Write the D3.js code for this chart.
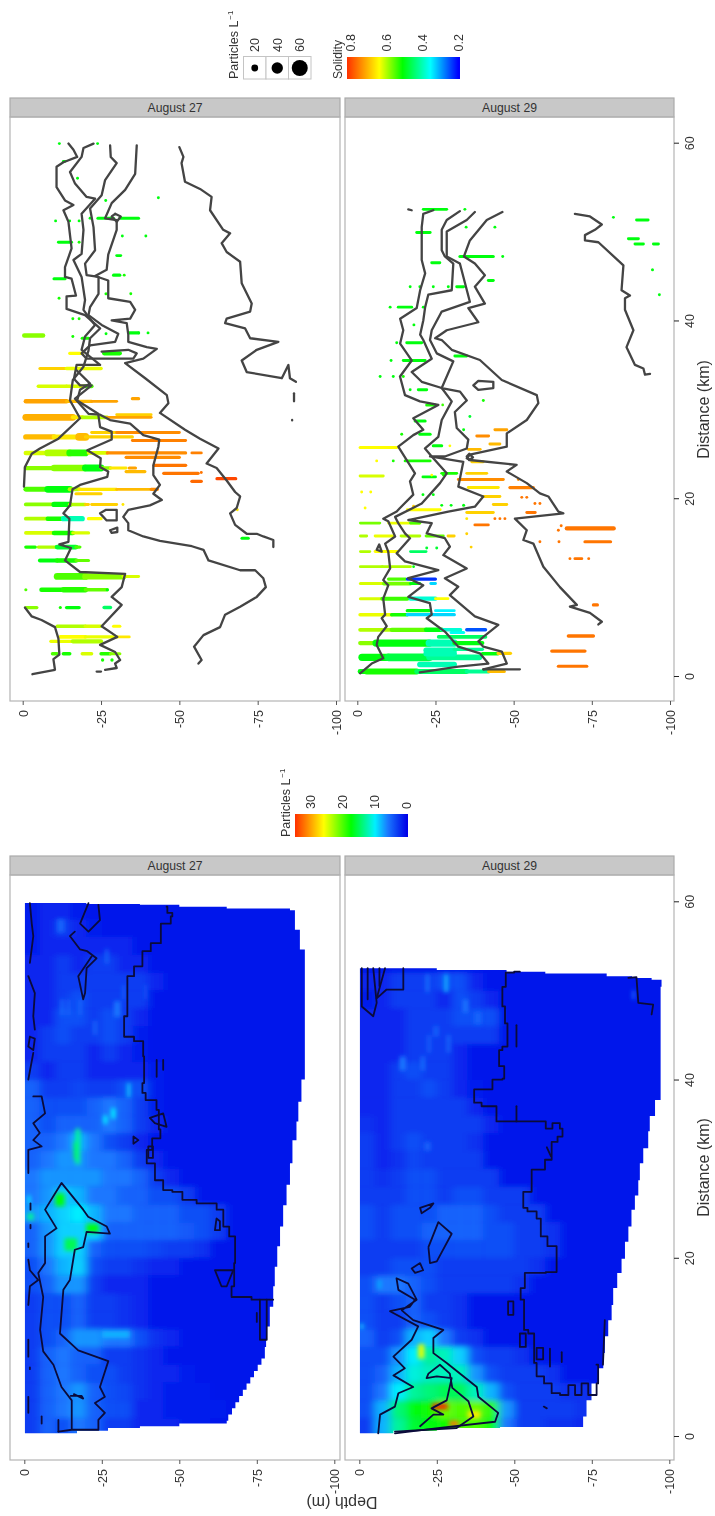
<!DOCTYPE html>
<html>
<head>
 <meta charset="UTF-8">
 <title>Particles and solidity, August 27 and 29</title>
 <script src="https://cdn.jsdelivr.net/npm/d3@7"></script>
 <style>
body { margin: 0; background: #fff; }
svg { display: block; font-family: "Liberation Sans", Arial, sans-serif; fill: #333; filter: blur(0.4px); }
.contour { fill: none; stroke-linejoin: round; stroke-linecap: round; }
.run { stroke-linecap: round; }
 </style>
</head>
<body>
<div id="chart"></div>
<script>
var depthTicks = [0, 25, 50, 75, 100];
var distanceTicks = [0, 20, 40, 60];
var sizeLegend = [20, 40, 60];
var solidityLegend = [0.8, 0.6, 0.4, 0.2];
var particleLegend = [30, 20, 10, 0];
var solidityStops = [0.2, 0.355, 0.51, 0.64, 0.82];
var particleStops = [0, 3, 6, 10, 17.5, 26, 35];

// profile runs: km, depth from, depth to, solidity, particles per litre
var runs27 = [
 [1.8,25.5,25.5,.52,5],[1.8,28.5,28.5,.52,5],
 [2.5,9.5,11,.55,5],[2.5,13,15,.52,6],[2.5,19,22,.62,5],[2.5,25,28,.53,5],[2.5,28,31,.58,4],
 [3.9,9,16,.63,5],[3.9,16,25,.6,9],
 [4.4,12,20,.64,6],[4.4,20,30,.63,5],[4.4,30,34,.66,3],
 [5.6,11,20,.6,5],[5.6,20,25,.62,5],[5.6,29,31,.64,4],
 [7.7,1,4.5,.58,5],[7.7,12,12,.52,4],[7.7,14,18,.5,5],[7.7,26,28,.45,6],
 [9.7,1,1,.55,4],[9.7,6,13,.52,10],[9.7,13,20,.53,14],[9.7,20,27,.56,5],[9.7,27,27,.5,4],
 [11.2,11,20,.55,20],[11.2,20,32,.58,18],[11.2,32,37,.62,3],
 [13,5.5,11,.5,8],[13,11,17,.52,10],[13,17,21,.56,4],
 [14.5,1,4,.52,5],[14.5,5,11,.6,5],[14.5,11,17,.48,12],[14.5,17,18,.55,5],[14.5,18.3,18.3,.55,3],
 [15.5,70,72,.5,4],
 [16.1,1,10,.62,6],[16.1,10,16,.52,10],[16.1,16,21,.62,5],
 [17.7,1,8,.6,7],[17.7,8,13,.52,10],[17.7,13,19,.4,13],[17.7,21,25,.64,5],
 [18.7,68.5,68.5,.66,3],
 [19.3,1,10,.58,7],[19.3,10,15,.5,13],[19.3,15,20,.6,6],[19.3,20,21,.68,3],[19.3,22,30,.68,3],[19.3,32,32,.66,3],
 [20.5,17,25,.68,4],
 [21,1,8,.55,12],[21,8,15,.5,20],[21,15,18,.6,8],[21,18,30,.66,4],[21,30,41,.7,3],[21,41,43,.74,4],
 [21.9,54,57,.77,5],[22.2,62,68,.8,4],[22.8,45,56,.76,4],[22.9,57,57,.76,3],[23,33,39,.7,4],
 [23.4,1,10,.58,9],[23.4,10,20,.58,18],[23.4,20,25,.5,20],[23.4,25,28,.58,6],[23.4,28,33,.66,3],[23.4,34,36,.72,4],
 [23.7,42,52,.76,5],[24.6,33,50,.74,4],
 [25.1,1,8,.62,10],[25.1,8,15,.6,20],[25.1,15,20,.53,20],[25.1,21,27,.62,6],[25.1,27,52,.74,4],[25.1,54,57,.75,3],
 [26.5,35,52,.75,3],
 [26.9,1,10,.7,14],[26.9,10,18,.66,12],[26.9,18,20,.7,24],[26.9,20,35,.68,4],
 [27.4,22,30,.68,3],[27.4,30,50,.74,3],
 [29.1,1,16,.71,20],[29.1,16,19,.66,8],[29.1,19,27,.6,6],[29.1,27,41,.72,3],
 [29.4,30,41,.68,2.5],
 [30.9,1,14,.72,10],[30.9,14,22,.7,4],[30.9,22,30,.72,3],[31.2,35,37,.72,4],
 [32.6,5,14,.62,6],[32.6,14,20,.62,5],[32.6,20,22,.55,8],
 [34.6,5.5,14,.68,4],[34.6,14,25,.63,6],
 [36.3,15,19,.64,4],[36.3,26,31,.52,9],
 [38.3,.5,6.5,.58,10],[38.2,16,16,.52,3],[38,19,21,.52,4],[38.6,34,37,.5,4],[38.6,37,37,.5,3],[38.6,40,40,.5,3],[38.5,26.6,26.6,.5,3],
 [40.2,16,16,.52,3],[40.2,18,18,.52,3],
 [42.5,11.6,11.6,.52,3],[43,26.6,26.6,.52,4],[43,34.5,34.5,.52,3],
 [44.7,10,13.5,.5,4],[45.1,29,31,.5,4],[45.1,32.4,32.4,.52,3],
 [47.3,30,31.3,.5,3],[48.8,11.4,15.6,.5,3],[48.8,18,18,.52,3],[49.5,31.8,31.8,.5,3],[49.5,39.3,39.3,.5,3],
 [51.2,10.5,10.5,.5,3],[51.2,15,15,.5,3],[51.2,18,18,.5,3],[51.5,21.5,21.5,.5,3],[51.5,24,29,.5,3.5],[51.5,31,37,.5,3.5],
 [53.5,26.5,26.5,.5,3],[53.8,43.3,43.3,.5,3],[56,17.5,17.5,.5,3],[57.9,13,13.5,.5,3],
 [59.9,11.7,11.7,.5,3],[59.9,23.9,23.9,.5,3]
];

var runs29 = [
 [.5,.9,3,.5,12],[.5,3,19,.52,16],[.5,19,35,.45,12],[.5,35,42,.42,8],[.5,42,47,.7,4],
 [1.1,64.3,73.4,.76,4],[1.3,20,31,.4,14],
 [2.1,1.5,10,.5,22],[2.1,10,23,.47,24],[2.1,23,39,.42,16],[2.5,40,45,.5,5],[2.55,45,49,.68,4],[2.5,22,31,.4,14],
 [2.8,62.2,72.8,.76,5],[2.9,22,31,.4,14],[3,31,40,.42,5],
 [3.7,.9,6,.58,8],[3.7,6,23,.5,22],[3.7,23,31,.4,22],[3.7,31,40,.5,8],
 [4.4,26,41,.45,6],[4.5,67.5,75.5,.76,5],[4.9,30,34,.36,4],
 [5.2,.9,11,.6,7],[5.2,11,22,.56,9],[5.2,22,27,.5,10],[5.2,27,33,.38,6],[5.2,35,41,.25,5],
 [6.9,.9,11,.63,6],[6.9,11,16,.52,6],[6.9,16,31,.33,5],
 [7.35,16,23,.5,5],[7.35,25,31,.35,3],[8,75.5,76.8,.76,4],
 [8.7,1,8,.62,3.5],[8.7,8,16,.54,8],[8.7,17,25,.38,9],[8.7,25,29,.64,3],
 [10.4,1,8,.62,3.5],[10.4,8.5,17,.57,7],[10.4,17,20,.5,4],[10.4,23.5,25,.33,3],
 [10.9,10,15.5,.55,5],[10.9,16,25,.23,4],
 [12.3,1,8,.6,3],[12.3,8,17,.6,3],[12.3,18,18,.5,2],
 [13.2,68,68,.76,3],[13.2,69.6,71.8,.76,3],[13.2,74,74,.76,3],
 [14,1,4,.6,2.5],[14,5.7,13,.64,3],[14,17,22,.45,2.5],[14.4,22.2,22.2,.48,3],[14.4,25.4,25.4,.48,3],[14.5,36.4,36.4,.68,3],
 [15.1,58.4,58.4,.76,3],[15.1,64.5,64.5,.76,3],[15.1,72.8,81,.76,4],
 [15.75,1,3,.6,3],[15.75,5.7,11.5,.63,3],[15.75,14,20,.6,3],[15.75,22,27.5,.56,3],[15.75,29,31,.68,2.5],
 [16,35,35,.68,3],[16.6,67,82,.76,9],[16.9,65.2,65.2,.76,3],[16.4,64.3,64.3,.76,3],
 [17,37.6,41.9,.76,3],[17.2,1,7.2,.57,3],[17.2,10,20,.63,3],[17.2,17,20,.55,3],
 [17.7,44,44,.76,3],[17.7,45.6,45.6,.76,3],[17.7,47.2,47.2,.76,3],[17.7,35,35,.66,3],
 [18.4,54.2,56.9,.76,3],[18.4,35,43.5,.68,3],[18.7,16,26.5,.64,3],[18.9,2.5,2.5,.64,3],
 [19.1,18,18,.68,3],[19.2,27,27,.5,3],[19.2,30,30,.5,3],[19.2,34,34,.5,3.5],
 [19.3,43.5,47.8,.68,3],[19.4,56.8,56.8,.76,3],[19.4,58.4,58.4,.76,3],
 [20.1,52.6,52.6,.76,3],[20.1,54.2,54.2,.76,3],[20.2,40.3,45.6,.68,3],
 [20.7,1.4,1.4,.64,3],[20.7,4.3,4.3,.64,3],[20.4,21,21,.5,3],[20.4,24.3,24.3,.5,3],
 [21.2,48.8,56.3,.75,4],[21.2,35.5,45.1,.66,3],
 [22.1,32.3,46.7,.74,3],[22.1,51.5,51.5,.74,3],
 [22.5,.9,8.3,.62,3],[22.4,21,25,.5,3],[22.8,27,31.8,.52,3],[22.8,35,41.4,.68,3],[22.6,23.8,23.8,.64,2],[22.6,27.5,27.5,.52,2],
 [24.2,6.2,6.2,.64,3],[24.2,11.5,11.5,.52,3],[24.2,15.3,23.3,.52,3],[24.1,36.6,40.3,.68,3],
 [25.5,35.5,39.3,.7,3],[25.7,.9,12.6,.64,3.5],[25.9,24.3,27,.5,3.5],[25.9,29.6,29.6,.64,2.5],
 [26.1,42.4,45.6,.7,3],[27,38.2,42,.74,3],[27.2,14.2,14.2,.52,3],[27.2,20,23.3,.5,3.5],[27.7,44,47.8,.72,3],[27.7,34,34,.5,3],
 [28.7,18.5,21.7,.5,3.5],[29.2,36,36,.48,3],[30.5,22.2,24.9,.52,3.5],[30.5,27.3,27.3,.54,2],[31,40.3,40.3,.52,3],
 [32.2,16.9,16.9,.5,3],[32.2,19.5,22.2,.5,3],[33.7,7.3,7.3,.5,3],[33.7,11.5,11.5,.5,3],[33.7,14.7,14.7,.52,3],
 [35.5,10.8,10.8,.5,3],[35.5,14.7,21.7,.5,3],[36,31.2,35,.5,3],[37.5,12.6,12.6,.5,3],[37.5,15.8,20.6,.5,3],
 [39.5,18.1,18.1,.5,3],[41.5,10.5,10.5,.5,3],[41.5,13.1,17.4,.5,3],[41.5,21.1,21.1,.5,3],[42.9,96.6,96.6,.5,3],
 [43.8,16.9,16.9,.5,3],[43.8,20,20,.5,3],[43.8,24.3,24.3,.5,3],[43.8,29.1,29.1,.5,3],[43.8,31.8,34,.5,3],
 [44.5,41.9,43.5,.5,3],[45.7,94.4,94.4,.5,3.5],[46.5,23.8,26.4,.5,3],
 [47.2,32.8,43.5,.5,3.5],[47.2,46.5,46.5,.5,3],[48.6,88.8,91.5,.5,3],[48.6,94.7,96.3,.5,3],[49.2,86.7,89.9,.5,3],
 [49.9,19,23.3,.5,3],[50.5,34.8,34.8,.5,3],[50.5,44,44,.5,3],[51.3,89.3,93,.5,3],[51.6,81.9,81.9,.5,3],
 [52.5,21.1,28.6,.5,3],[52.5,34.4,34.4,.5,3]
];

// contour lines above the profiles: km, depth
var lines27 = [
 [[59.9,14.6],[59.2,16.2],[58.4,17.4],[57.8,13],[57.3,10.8],[55,10.8],[53.5,13.5],[53,16.2],[52.4,13],[51.1,14.6],[48.1,15.6],[46,13.5],[44.9,13.5],[44.7,15.6],[42.8,17],[42.7,14],[41.3,14],[40.6,19.9],[39.1,24.7],[38,21.5],[36.6,21],[34.8,19.4],[33.3,16],[31,15.1],[29,18.3],[26.7,11.4],[25.6,5.5],[25,2.9],[23.5,.7],[21.3,.4]],
 [[59.9,22.6],[59.4,19.4],[58.4,18.8],[56.7,15.1],[55.4,16.7],[53.9,20.4],[53.7,23.1],[52,18.8],[50.2,19.4],[47.5,18.8],[46.8,16.2],[44.9,18.8],[42.3,19.9],[41.2,19.4],[40.4,21],[39.5,23.1],[38.2,19.9],[36.7,18.8],[35,24.7],[35,17.2],[33.5,16.4],[33.3,16.7],[32.7,18.3],[32.7,22],[31.8,18.8],[31.2,16.7],[29.5,21],[29.4,24.7],[28.8,27.9],[28.4,34.3],[27.1,38.5],[26.6,43.6],[25.8,43.3],[23.7,41.7],[22.6,41.7],[21.5,43.8],[20.5,41.7],[19.8,44.4],[19.2,40.6],[18.7,33.7],[17.9,32.1],[17.2,33.7],[16.4,33.7],[15.7,38.5],[15.2,43.8],[14.6,54],[14.2,57.7],[13,59.3],[11.9,69.4],[11.9,74.2],[11,76.8],[10,77.6],[8.9,74.7],[7.8,69.4],[6.9,64.6],[5.5,63],[4.6,57.7],[3.3,54.7],[1.8,57.1],[1.4,56.1]],
 [[59.7,27.9],[58.4,28.1],[57.7,30],[55.8,26.3],[54.1,25.2],[52.6,21.5],[50.5,22.6],[47.9,23.1],[46.4,19.9],[45.1,20.4],[44.9,24.2],[43,24.2],[41.5,21.5],[40.6,21],[39.5,25.2],[38.5,30.5],[37.6,29.5],[37.2,21.5],[36.3,18.8],[35.7,20.4],[35.7,35.3],[36.3,36.4],[36.7,33.7],[36.5,25.2]],
 [[34.4,17.2],[32.9,21.5],[32.2,18.3],[31,17.4],[29.5,24.1],[28,24.7],[27.5,28.4],[26.6,28.4],[25.4,20.6],[24.5,24.9],[23.5,24.7],[23,27.3],[22.4,27],[21.5,18.3],[21,15.9],[19.2,15.1],[18.3,13],[17.7,14.9],[15.1,14.6],[14.8,11.7],[14.4,15.4],[13,13.5],[11.7,18.3],[11.5,32.7],[10,31.6],[8.9,28.4],[8,31.6],[5.6,25.2],[4.4,30.2],[3.5,24.7],[2.7,29.5],[1.8,31.1],[1.4,29.5],[.9,30],[.7,26.3]],
 [[.5,23.6],[.5,25]],
 [[59.7,36.4],[56.5,35.9],[54.7,32.7],[53.2,28.4],[51.5,26.3],[51.3,30],[50.2,30],[47.4,27.3],[45.7,26.8],[45,23.1],[44.5,27.3],[42.5,27.3],[42.1,34.3],[41.2,35.9],[40.2,34.3],[40,28.4],[39.7,33.2],[38.4,33.7],[37.6,33.7],[37,39.6],[36.8,42.8],[35.7,38.5],[35.2,32.7],[33.5,39.1],[31.6,46],[30.7,46.5],[29.6,43.8],[27.7,51.8],[26.7,56.6],[25.6,62.5],[23.9,58.7],[23.4,61.9],[22,65.1],[20.7,67.8],[20.2,69.4],[18.9,68.3],[18.3,66.2],[17,67.8],[16,71.5],[16,74.7],[15.7,76.8],[15.3,80],[14.5,80]],
 [[59.5,50],[58.4,51.3],[57.7,50.7],[55.6,51.8],[54.8,56.6],[53.9,60.3],[52.4,59.8],[50.2,64],[49.8,66.2],[48.7,63.5],[47.7,65.1],[46.6,69.4],[44.2,69.9],[41.9,73.1],[41,72.6],[40.2,65.1],[39.7,64.6],[39.1,71],[38,72.6],[37.6,81.6],[36.7,74.7],[35.5,69.9],[34.2,71.5],[33.5,82.7],[35,84.8],[33.5,85.3],[33.1,87.2]],
 [[31.8,86.6],[30.9,86.6]],
 [[28.8,86],[28.75,86]],
 [[.2,3.1],[.7,10.3],[1.9,9.8],[2.4,11.7],[4.2,11.4],[5.5,10.3],[6.3,6],[6.7,2.9],[7.7,.7]],
 [[18.3,24.7],[18.7,26.6],[18.7,30],[17.5,30],[17.5,26.8],[18.3,24.7]],
 [[16.4,27.9],[16.7,30.2],[16.2,30.2],[16.1,28.4],[16.4,27.9]],
 [[52,29.5],[51.7,31.3],[51.1,30],[51.7,28.4],[52,29.5]]
];

var lines29 = [
 [[52.5,16.3],[52.4,17.4]],
 [[52.4,24.3],[52,21.1],[50.5,20.6],[46.8,20.6],[45.3,21.7],[43.4,20.1],[41.4,19],[40.2,13.7],[38.9,14.7],[37.4,13.7],[35.5,17.4],[33.7,13.65],[31.6,15.25],[30.9,20.05],[30.5,25.9],[29,17.9],[27.7,21.1],[27.1,17.9],[25.8,13.1],[22.8,18.45],[21.9,16.85],[20.4,17.9],[18.9,13.65],[18.5,12.6],[17.7,8.3],[17.4,9.9],[15.7,12.1],[14.9,8.9],[14,9.9],[12.1,10.5],[10.8,8.3],[10.2,9.9],[8.7,8.3],[6.9,8.9],[6.5,7.8],[5.6,9.4],[4.4,6.7],[3.5,6.2],[2,8.3],[1.4,4.6],[.3,.9]],
 [[52.3,32.8],[51.3,28.6],[50.2,27],[47.9,27],[47.2,28],[46.4,30.7],[43.4,30.2],[42.9,22.7],[41.5,21.7],[40,21.1],[38.4,20.1],[37.8,21.1],[35.7,23.8],[34.2,17.4],[33.1,20.6],[32.4,27],[30.9,30.2],[28.8,27],[26.9,25.9],[25.6,21.65],[24.7,23.8],[22.8,28.6],[21.7,26.45],[19.4,20.6],[17.9,12.1],[17.2,13.1],[16.05,15.25],[15.5,16.85],[13.8,12.6],[12.9,15.25],[11.9,25.9],[11,16.3],[10.2,21.1],[8.9,16.3],[8.2,23.2],[6.9,23.8],[6.5,22.2],[5,28],[3.3,32.3],[2.55,39.2],[1.4,41.9],[1.05,32.3],[.4,20]],
 [[52.2,37.6],[51.3,35],[50,28.6],[47.2,28.6],[46.4,32.8],[42.1,36],[41,27],[38.9,23.8],[37.8,23.25],[36.3,25.4],[35.4,30.7],[32.4,27],[32,32.85],[31,35],[29.7,31.2],[27.9,31.8],[26.6,35.5],[25.6,35],[24.7,28],[24.7,23.25],[24.1,33.9],[21.3,32.3],[20.2,40.3],[19.05,37.6],[18.5,29.1],[17.55,16.3],[17.2,23.8],[16.05,22.2],[15.5,28],[14.55,29.6],[13.6,27.5],[12.1,35],[11,28],[10.05,32.3],[9.1,29.6],[6.7,37.6],[5.75,45.1],[4.4,40.3],[3.9,38.7],[3.3,40.3],[2.75,46.2],[1.4,47.8],[.75,40.3]],
 [[.75,40.3],[.75,52]],
 [[52.2,46.4],[51.3,41.4],[49,36],[47.2,34.1],[46.4,37.6],[45.1,40.8],[43.8,37.6],[41.9,40.8],[41.4,35.5],[39.8,38.7],[38.9,28.6],[38,24.9],[37.8,27],[36.7,30.2],[35.55,39.2],[33.3,46.2],[31.6,57.4],[30.7,57.9],[28.8,54.2],[27.3,47.8],[25.8,47.8],[24.9,36],[24.5,35],[24.3,36],[23.75,50.95],[23,47.8],[21.7,54.2],[20.55,58.4],[20.2,61.1],[18.5,64.3],[18.3,65.9],[17.7,50.4],[16.4,54.2],[15.3,53.1],[14.9,56.3],[12.3,59.5],[10,64.8],[8,70.2],[7.8,68],[7.1,74.4],[6.1,78.2],[5.8,77.1]],
 [[52,69.6],[51.7,74.4],[50.8,78.2],[50.2,76],[49.6,72.8],[49,72.8],[48.8,77.1],[46.2,85.1],[43.4,84.5],[42.8,87.2],[42.5,85.6],[41.2,85.6],[38.9,88.3],[37,86.1],[35,88.8],[34.6,91.5],[33.9,92],[34,93.6]],
 [[32.7,37.1],[33.2,38.7],[33.1,43.5],[32.4,43.5],[32.2,38.7],[32.7,37.1]],
 [[14.2,6.2],[14.8,7],[14,7.8],[14.2,6.2]],
 [[24.7,35],[25,35.8],[24.6,37],[24.3,35.8],[24.7,35]]
];

// rows of the particle section, one row every 2 km, one value every 5 m
var heatKm27 = [1,3,5,7,9,11,13,15,17,19,21,23,25,27,29,31,33,35,37,39,41,43,45,47,49,51,53,55,57,59];
var heat27 = [
 [3,5,4,6,5,3,3,2,2,2,1.5,1.5,1],
 [3,5,6,7,5,4,4,2,2,1.5,1.5,1.5,1.5],
 [3,5,6,7,5,4,3.5,2.5,2,1.5,1.5,1.5],
 [3,5,6,5,4,4,3,2.5,2,2,1.5],
 [3,5,6,5,5,3,3,2.5,2],
 [3,4,5,7,7,6,6,4,2.5,2],
 [3,4,4,5,3,3,2.5,2],
 [3,4,4,5,3,3,2.5,2],
 [4,5,7,7,3,2,2,2],
 [4,6,8,9,4,3,3,2.5,2,2],
 [5,7,9,9,5,4,4,4,3.5,3,3,2.5],
 [5,7,9,9,9,5,5,5,5,5,4.5,4,3],
 [7,8,9,10,8,6,6,5,5,5,4,4,3],
 [6,7,9,8,6,6,5,5,4,4,3],
 [6,7,7,7,7,6,6,5,3,2],
 [5,6,7,7,6,6,5,3,2],
 [5,5,6,8,6,4,3,2],
 [5,4,5,5,5,6,5,3,2],
 [5,4,4,4,5,6,5,3,1.5],
 [5,3,3,3.5,3,3,4,4,1.5],
 [3,2,3,3,2,2,2,2,1.5],
 [2,3,3,3,2,3,2,1.5],
 [2,3,4,3,3,4,3,1.5],
 [2,2,4,4,3,4,3,2],
 [2,2,3,4,3,3,3,3],
 [2,2,3,3,3,3,3,3,2],
 [2,2,3,2,3,3,2,2],
 [1.5,2,2,2,2,2,2],
 [1.5,2,3,2,1.5],
 [1.5,2,2,1.5]
];
var heatKm29 = [1,3,5,7,9,11,13,15,17,19,21,23,25,27,29,31,33,35,37,39,41,43,45,47,49,51];
var heat29 = [
 [3,8,13,16,17,18,20,20,18,6,3,3,2.5,2.5,2],
 [4,8,14,17,18,21,20,21,19,7,3,3,3,3,2.5,2],
 [4,6,10,13,14,15,15,12,8,4,3,3,3,2.5,2.5],
 [4,5,8,11,12,12,12,7,4,3,3,3,2.5],
 [4,4,7,10,13,12,9,4,3,3,2.5],
 [5,3,4,8,9,6,3,2.5],
 [4,3,3,5,4,3,2.5],
 [4,3,4,5,3,3,2.5],
 [4,6,6,5,4,3,3,3,3,3,2.5],
 [3,3,4,4,4,3,3,3,3,3,3,2.5],
 [3,3,3,3,4,4,4,4,4,4,3,3,2.5],
 [4,3,4,4,5,5,5,5,4,4,3,3,2.5],
 [4,3,4,4,4,5,5,5,4,3,3,3],
 [3,3,3,4,4,3,4,4,3,3,3],
 [3,2.5,3,4,4,3,3,3,3],
 [3,2,2.5,3.5,3,3,3,3],
 [3,2,3,4,3,3,3,2.5],
 [2.5,2,3,3,3,3,3,3,2],
 [2,2,3,3,3,3,3,2],
 [2,2,3,3,4,3,2,1.5],
 [2,2,3,4,3,3,2],
 [2,2,2,3,3,3,2],
 [2,2,2,3,3,3,3,3,3],
 [2,2,2,3,3,3,4,4,4],
 [1.5,2,3,3,3,2,4,3,2],
 [2,2,3,3,3,4,4,2]
];
// narrow streaks: km from, km to, depth from, depth to, particles
var hot27 = [
 [25.8,27.2,10,13,17],[22.8,23.8,20,24,17],[20.8,22.2,13,17,15],[30.5,34.5,16.5,18,13],[24.2,25,1,3,13],[11,11.8,25,34,8],
 [56.5,58,10.5,13,5],[47.2,49,11.8,12.6,6],[47.2,49,14,14.6,6],[47.2,49,17.7,18.3,6],[47,48.8,29,31,6],
 [45,46.6,22.4,23.2,6],[53,54.6,26,27.2,5],[49,50.6,31.6,32.4,5],[49,50.6,38.8,39.4,5],[38,39.6,33,34.4,8],
 [35.6,36.8,28,29.4,10],[35,36,25.5,26.8,10],[26,27,1,2,10],[31,33,16,17,15]
];
var hot29 = [
 [3,3.6,23.5,28.5,36],[1.1,1.7,29,32,32],[2,2.8,35,39,27],[8.7,10.3,19,21,25],[12,12.6,0,1.5,8],
 [49.8,51.8,21.5,22.5,6],[49.8,51.8,27.4,28.6,8],[49,50,88,89,5],[47.5,49,33.5,35,6],[46.2,47.6,37,39.5,5],
 [44.8,46,24,25.5,5],[43,45,22,23,5],[43,45,28.4,29.2,6],[41,42.6,13,15,6],[41,42.6,20,21,6],[32,33,21,23,5],[16.5,17.5,6,7,8]
];

// edge of the sampled section: km, depth
var edge27 = [[59.8,.2],[59.7,20],[59.6,37.3],[59.4,50],[59.2,65.3],[59,85.7],[56.8,87.3],[54.6,88.9],[52,90.5],[40,90.5],[37.5,89.4],[35.3,88.4],[33.2,87.8],[30.6,86.5],[28.2,85.7],[25.9,84.6],[23.5,83.5],[21.3,82.5],[19,81.6],[16.8,80.8],[14.5,80.3],[12.3,79.2],[10,78],[8.7,77.6],[8,76.5],[7.3,75.3],[6.6,74.1],[5.9,72.9],[5.2,71.7],[4.5,70.5],[3.8,69.3],[3.1,68.1],[2.4,67],[1.7,65.8],[1.4,65.3],[1.1,50],[.9,37.3],[.6,27],[.3,17],[.3,.2]];
var edge29 = [[52.5,.2],[52.3,25],[52.1,47.5],[51.9,60],[51.6,79.8],[51.4,88],[51.2,94.3],[50.4,97.5],[37.7,97.2],[35.9,95.4],[34.2,93.7],[32.3,93.2],[30.6,91.6],[28.7,90.5],[27,90],[25.4,88.9],[23.5,87.8],[21.8,86.8],[19.9,85.7],[18.3,84.6],[16.6,83.2],[14.7,81.9],[13,81.4],[11.2,80.3],[9.3,79.2],[7.6,78.7],[5.9,77.1],[4,74.9],[2.2,73.3],[1,72.2],[.9,45.4],[.6,25],[.3,11],[.3,.2]];

// contour lines on the particle section: km, depth
var contours27 = [
 [[59.4,45.9],[58.7,46.4],[58.3,49.1],[57.5,45.4],[55.3,42.7],[54.4,38.9],[52.7,37.3],[51.6,33.5],[47.1,33],[46.3,31.4],[44.8,33],[44.3,37.8],[42.6,38.9],[39.6,38.4],[38.5,37.8],[37.7,40.5],[36.6,44.8],[35.7,42],[34.4,44.8],[33.4,43],[32.1,39.5],[30.6,39.5],[28.7,44.8],[27.6,44.8],[27.4,50.7],[26.5,51.3],[26.1,59.9],[25.4,64.2],[23.5,64.2],[22.4,68],[19.4,68],[16.8,67.4],[15.6,66.3],[15.3,80.3]],
 [[.5,11],[.7,15.3],[4,15.3],[5.5,12],[8,9.4],[9.5,6.1],[11.9,5.1],[15.6,6.1],[18.3,4.5],[19.4,6.7],[22.4,6.7],[23.3,10.4],[25.4,6.7],[28.4,12],[25.4,19],[24.6,20.6],[23.5,26.6],[22.7,27.6],[22.9,20.1],[21.2,19],[20.9,16.3],[17.5,14.7],[16.4,12.6],[11.5,11.5],[9.6,17.4],[8.4,27.1],[5.5,24.4],[4.4,26],[3.7,22.8],[2.6,26],[1.8,23.9],[.7,23.9],[.7,15.3]],
 [[15.3,76],[10.8,76],[10.8,78.2],[15.3,78.2]],
 [[24.4,62],[24.1,63.1],[23.1,63.1],[23.1,61.5],[24.4,62]],
 [[18.6,61.5],[18.6,67.4],[16.8,65.3],[16.8,63.6],[18.6,61.5]],
 [[13.8,75],[12.8,75]],
 [[59.8,20.7],[57.5,18],[56.6,20.7],[57.9,24.4],[59.6,23.9]],
 [[56.6,16.3],[56.1,14.7],[54.6,18],[54.4,20.3],[53.6,23.3],[52.5,20.1],[49.7,19.6],[49,19],[51.6,17.4],[53.8,21.7]],
 [[59.8,1.8],[57.5,2.4],[56.1,2.9],[53.1,1.8]],
 [[51.6,1.3],[49.7,3.4],[47.1,2.9],[45.6,3.4]],
 [[44.8,1.8],[44.6,3.4],[43.3,2.9],[43.7,1.3],[44.8,1.8]],
 [[43,2.9],[40,1.3]],
 [[38.1,2.9],[38.1,5.6],[36.2,6.7],[35.1,2.9],[34,5],[33.2,2.9],[32.5,5.6],[32.1,1.3],[29.5,1.3]],
 [[26.1,2],[25.4,2]],[[23.7,2],[23.3,2]],[[21.6,1.3],[21.2,1.3]],
 [[19.8,1.3],[18.6,1.8],[17.5,4.5],[16.8,1.8],[14.7,1.3]],
 [[10.8,1.3],[8.9,1.3]],[[7.7,1.8],[7.5,1.8]],[[4.4,1.3],[2.6,1.3]],[[2.2,5.6],[1.4,5.6]],[[1.8,11],[.5,11]],
 [[42.2,42.7],[40.3,42.7]],[[42.2,44.8],[41.1,44.8]],
 [[35.7,40.5],[36.2,44.8],[34.7,45.9],[35.1,42.1],[35.7,40.5]],
 [[33.6,35.2],[33.2,36.8],[32.8,35.2],[33.6,35.2]],
 [[32.5,40],[31.2,40],[31.2,41.5],[32.5,41.5],[32.5,40]],
 [[4.5,15],[4.5,18.5],[4.2,19],[4.7,16]]
];
var contours29 = [
 [[52.1,51.8],[52,48.1],[50.4,46.4],[48.2,45.9],[46.3,48.1],[43.7,47.5],[43.3,44.8],[41.5,45.4],[40.1,48.1],[40,44.3],[38.9,41.6],[38.9,37.3],[37.4,36.8],[37,42.1],[35.3,46.4],[35.3,59.3],[34.5,61],[35.1,63.6],[34.5,65.8],[33.6,65.3],[33,62.6],[31,61.5],[29.9,58.3],[27.4,52.9],[25.6,52.9],[25.2,55.6],[24.4,58.8],[22.4,58.3],[21.3,63.1],[18.4,64.2],[18.3,56.1],[16.6,50.7],[15.3,53.4],[11.9,52.9],[11.5,56.1],[8.2,56.7],[6.7,57.7],[5.9,61.5],[4.8,62.6],[4.6,66.9],[5.7,68],[4.6,71.2],[5.9,72.2],[4.6,75.5],[5.9,77.6],[8,76.5]],
 [[8,78.6],[13,79.2]],
 [[15.1,48],[15.1,49.7],[13.6,49.7],[13.6,48],[15.1,48]],
 [[11.5,51.8],[11.5,53.7],[10,53.7],[10,51.8],[11.5,51.8]],
 [[9.9,57.2],[9.9,59.3],[8.6,59.3],[8.6,57.2],[9.9,57.2]],
 [[9.8,61.5],[7.8,61.5]],[[9.4,65.3],[8.3,65.3]],
 [[.3,6.1],[2.4,6.7],[3.3,11.5],[4.8,12.6],[5.5,17.4],[6.8,11],[7.6,14.7],[8.9,11],[10.8,16.9],[12.3,19],[14,9.9],[14.5,16.3],[15.3,18],[16.4,12.6],[17.7,12],[17.1,15.8],[15.3,18.5],[14.1,13.7],[13,17.4],[11.9,27.1],[11,23.9],[9.3,23.9],[8.2,28.2],[5.5,37.9],[4.4,38.4],[2.6,44.8],[1.6,43.8],[.9,26],[.3,11.5]],
 [[1.1,19.6],[2.4,23.9],[2.4,27.1],[3.1,23.3],[4,28.2],[6.5,29.8],[6.7,25],[6.5,21.7],[7,22.3],[8,26],[7,29.2],[5.4,30],[3.9,35.2],[2.2,36.8],[1.4,33.5],[.9,31.4],[.5,11.5]],
 [[25.6,19.6],[26.1,23.9],[25.6,22.8],[25,20.1],[25.6,19.6]],
 [[18.8,16.9],[19.4,19.6],[18.6,20.6],[18.3,18],[18.8,16.9]],
 [[21.2,22.3],[24,25.5],[22.7,29.8],[19.6,25],[19.4,22.8],[21.2,22.3]],
 [[52.5,.8],[48.2,.8],[47.1,4.5],[48.6,5.6],[52.5,4.5]],
 [[52.5,2.7],[49,2.7]],
 [[52.5,8.3],[49.1,5.6],[50.1,8.8],[50.1,14.2],[52.5,14.2]],
 [[52.5,6.5],[50.5,6.5]],
 [[51.4,86.8],[51.5,89.4],[48.6,90],[48.4,94.8],[47.3,94.3]],
 [[46.1,50.7],[43.7,50.7]],
 [[37,50.7],[35.3,50.7]],
 [[32.4,60.5],[31.4,61.8]],
 [[3.3,59.5],[3.1,60.5]]
];

var soliditySpan = [0.82, 0.19];
var particleSpan = [35, -0.3];
var stripNames = ["August 27", "August 29"];

var width = 715, height = 1516;
var ink = "#333";
var solidityColor = d3.scaleLinear().domain(solidityStops).range(["#0000ff", "#00ffff", "#00ff00", "#ffff00", "#ff3000"]);
var particleColor = d3.scaleLinear().domain(particleStops).range(["#0000e8", "#0a3cf2", "#1a78ff", "#00f0ff", "#00ff00", "#ffff00", "#ff3000"]);
var sizeScale = d3.scaleLinear().domain([0, 60]).range([1.1, 8]);

var svg = d3.select("#chart").append("svg").attr("width", width).attr("height", height);
var defs = svg.append("defs");
function blurFilter(id, amount) {
  defs.append("filter").attr("id", id).attr("x", "-5%").attr("y", "-5%").attr("width", "110%").attr("height", "110%")
    .append("feGaussianBlur").attr("stdDeviation", amount);
}
blurFilter("soft", "4 2.5");
blurFilter("streak", "2");
blurFilter("dots", "0.5");

var columns = [
  {left: 10, right: 340, d0: 22.7, d100: 336, heat0: 24.3, heat100: 334.3},
  {left: 345, right: 674, d0: 357.3, d100: 670, heat0: 359.3, heat100: 669.3}
];
var topRow = {stripTop: 98, top: 117, bottom: 701, km0: 676, km60: 142.7};
var heatRow = {stripTop: 856, top: 875, bottom: 1460, km0: 1436, km60: 901.3};

function frame(col, row, name) {
  svg.append("rect").attr("x", col.left).attr("y", row.stripTop)
    .attr("width", col.right - col.left).attr("height", row.top - row.stripTop)
    .attr("fill", "#c8c8c8").attr("stroke", "#ababab").attr("stroke-width", 1.2);
  svg.append("rect").attr("x", col.left).attr("y", row.top)
    .attr("width", col.right - col.left).attr("height", row.bottom - row.top)
    .attr("fill", "none").attr("stroke", "#b4b4b4").attr("stroke-width", 1.2);
  svg.append("text").attr("x", (col.left + col.right) / 2).attr("y", row.top - 5)
    .attr("text-anchor", "middle").attr("font-size", 12.2).text(name);
}

function depthAxis(x, row) {
  var g = svg.append("g").attr("transform", "translate(0," + row.bottom + ")")
    .call(d3.axisBottom(x).tickValues(depthTicks).tickSize(4)
      .tickFormat(function(d){ return d === 0 ? "0" : "-" + d; }));
  g.select(".domain").remove();
  g.selectAll("line").attr("stroke", "#555");
  g.selectAll("text").attr("x", 0).attr("y", 0).attr("dy", 0)
    .attr("text-anchor", "end").attr("font-size", 12.5).attr("font-family", "Liberation Sans").attr("fill", ink)
    .attr("transform", "translate(4.4,9) rotate(-90)");
}

function distanceAxis(y, col) {
  var g = svg.append("g").attr("transform", "translate(" + col.right + ",0)")
    .call(d3.axisRight(y).tickValues(distanceTicks).tickSize(5));
  g.select(".domain").remove();
  g.selectAll("line").attr("stroke", "#222");
  g.selectAll("text").attr("x", 0).attr("dy", 0)
    .attr("text-anchor", "middle").attr("font-size", 12.5).attr("font-family", "Liberation Sans").attr("fill", ink)
    .attr("transform", "translate(20,0) rotate(-90)");
}

function drawLines(g, lines, x, y, colour, weight, stepFirst) {
  var path = d3.line().x(function(p){ return x(p[1]); }).y(function(p){ return y(p[0]); });
  var stepped = d3.line().curve(d3.curveStep).x(function(p){ return x(p[1]); }).y(function(p){ return y(p[0]); });
  g.selectAll("path.contour").data(lines).enter().append("path")
    .attr("class", "contour")
    .attr("d", function(l, i){ return stepFirst && i === 0 ? stepped(l) : path(l); })
    .attr("stroke", colour).attr("stroke-width", weight);
}

function drawProfiles(col, runs, lines) {
  var x = d3.scaleLinear().domain([0, 100]).range([col.d0, col.d100]);
  var y = d3.scaleLinear().domain([0, 60]).range([topRow.km0, topRow.km60]);
  var g = svg.append("g");
  g.append("g").attr("filter", "url(#dots)").selectAll("line.run").data(runs).enter().append("line")
    .attr("class", "run")
    .attr("x1", function(r){ return x(r[1]); })
    .attr("x2", function(r){ return x(r[2]) + (r[1] === r[2] ? 0.01 : 0); })
    .attr("y1", function(r){ return y(r[0]); })
    .attr("y2", function(r){ return y(r[0]); })
    .attr("stroke", function(r){ return solidityColor(r[3]); })
    .attr("stroke-width", function(r){ return 2 * sizeScale(r[4]); });
  drawLines(g, lines, x, y, "#444", 2.3);
  return y;
}

function drawSection(col, i, kms, grid, hot, edge, contours) {
  var x = d3.scaleLinear().domain([0, 100]).range([col.heat0, col.heat100]);
  var y = d3.scaleLinear().domain([0, 60]).range([heatRow.km0, heatRow.km60]);
  var outline = d3.line().curve(d3.curveStepAfter).x(function(p){ return x(p[1]); }).y(function(p){ return y(p[0]); });
  defs.append("clipPath").attr("id", "edge" + i).append("path").attr("d", outline(edge) + "Z");
  var clipped = svg.append("g").attr("clip-path", "url(#edge" + i + ")");
  var soft = clipped.append("g").attr("filter", "url(#soft)");
  soft.append("rect").attr("x", x(-15)).attr("y", y(66)).attr("width", x(110) - x(-15)).attr("height", y(-6) - y(66))
    .attr("fill", particleColor(1));
  var cells = [];
  grid.forEach(function(row, r){
    row.forEach(function(v, c){ cells.push({km: kms[r], c: c, v: v}); });
  });
  soft.selectAll("rect.cell").data(cells).enter().append("rect")
    .attr("class", "cell")
    .attr("x", function(d){ return x(d.c * 5 - (d.c === 0 ? 15 : 0)); })
    .attr("width", function(d){ return x(5 + (d.c === 0 ? 15 : 0)) - x(0); })
    .attr("y", function(d){ return y(d.km + 1); })
    .attr("height", function(){ return y(0) - y(2); })
    .attr("fill", function(d){ return particleColor(d.v); });
  clipped.append("g").attr("filter", "url(#streak)").selectAll("rect.hot").data(hot).enter().append("rect")
    .attr("class", "hot")
    .attr("x", function(h){ return x(h[2]); })
    .attr("width", function(h){ return x(h[3]) - x(h[2]); })
    .attr("y", function(h){ return y(h[1]); })
    .attr("height", function(h){ return y(h[0]) - y(h[1]); })
    .attr("fill", function(h){ return particleColor(h[4]); });
  drawLines(svg.append("g"), contours, x, y, "#0b0b3a", 1.8, true);
  return y;
}

function bar(id, x0, x1, y0, y1, scaleFn, colour, stops) {
  var grad = defs.append("linearGradient").attr("id", id);
  var span = d3.scaleLinear().domain(scaleFn.domain()).range([0, 100]);
  stops.slice().reverse().forEach(function(v){
    grad.append("stop").attr("offset", span(v) + "%").attr("stop-color", colour(v));
  });
  svg.append("rect").attr("x", x0).attr("y", y0).attr("width", x1 - x0).attr("height", y1 - y0)
    .attr("fill", "url(#" + id + ")");
}

function upright(x, y, text, size, anchor) {
  return svg.append("text").attr("transform", "translate(" + x + "," + y + ") rotate(-90)")
    .attr("text-anchor", anchor || "start").attr("font-size", size).text(text);
}

function particlesTitle(x, y) {
  var t = upright(x, y, "Particles L", 12.5);
  t.append("tspan").attr("dy", -5).attr("dx", 1).attr("font-size", 8).text("\u22121");
}

drawProfiles(columns[0], runs27, lines27);
var topY = drawProfiles(columns[1], runs29, lines29);
drawSection(columns[0], 0, heatKm27, heat27, hot27, edge27, contours27);
var heatY = drawSection(columns[1], 1, heatKm29, heat29, hot29, edge29, contours29);

[topRow, heatRow].forEach(function(row){
  columns.forEach(function(col, i){
    frame(col, row, stripNames[i]);
    depthAxis(d3.scaleLinear().domain([0, 100]).range(row === topRow ? [col.d0, col.d100] : [col.heat0, col.heat100]), row);
  });
});
distanceAxis(topY, columns[1]);
distanceAxis(heatY, columns[1]);

upright(709, 409.5, "Distance (km)", 16, "middle");
upright(709, 1167.5, "Distance (km)", 16, "middle");
svg.append("text").attr("transform", "translate(342,1497) rotate(180)")
  .attr("text-anchor", "middle").attr("font-size", 16).text("Depth (m)");

// size legend
var sizeX = d3.scaleBand().domain(sizeLegend).range([243.5, 311]);
particlesTitle(238, 79);
svg.append("g").selectAll("rect").data(sizeLegend).enter().append("rect")
  .attr("x", function(d){ return sizeX(d); }).attr("y", 56.5)
  .attr("width", sizeX.bandwidth()).attr("height", 22.5)
  .attr("fill", "#fff").attr("stroke", "#c4c4c4").attr("stroke-width", 1);
svg.append("g").selectAll("circle").data(sizeLegend).enter().append("circle")
  .attr("cx", function(d){ return sizeX(d) + sizeX.bandwidth() / 2; }).attr("cy", 68)
  .attr("r", function(d){ return sizeScale(d); }).attr("fill", "#000");
sizeLegend.forEach(function(d){
  upright(sizeX(d) + sizeX.bandwidth() / 2 + 4.4, 52, d, 12.5);
});

// solidity bar
var solidityX = d3.scaleLinear().domain(soliditySpan).range([347, 460]);
upright(342, 79, "Solidity", 12.1);
bar("solidityBar", 347, 460, 57, 79, solidityX, solidityColor, solidityStops);
solidityLegend.forEach(function(d){
  upright(solidityX(d) + 4.4, 51.5, d.toFixed(1), 12.5);
});

// particle bar
var particleX = d3.scaleLinear().domain(particleSpan).range([295, 408]);
particlesTitle(290, 837);
bar("particleBar", 295, 408, 814, 837, particleX, particleColor, particleStops);
particleLegend.forEach(function(d){
  upright(particleX(d) + 4.4, 809, d, 12.5);
});
</script>
</body>
</html>
